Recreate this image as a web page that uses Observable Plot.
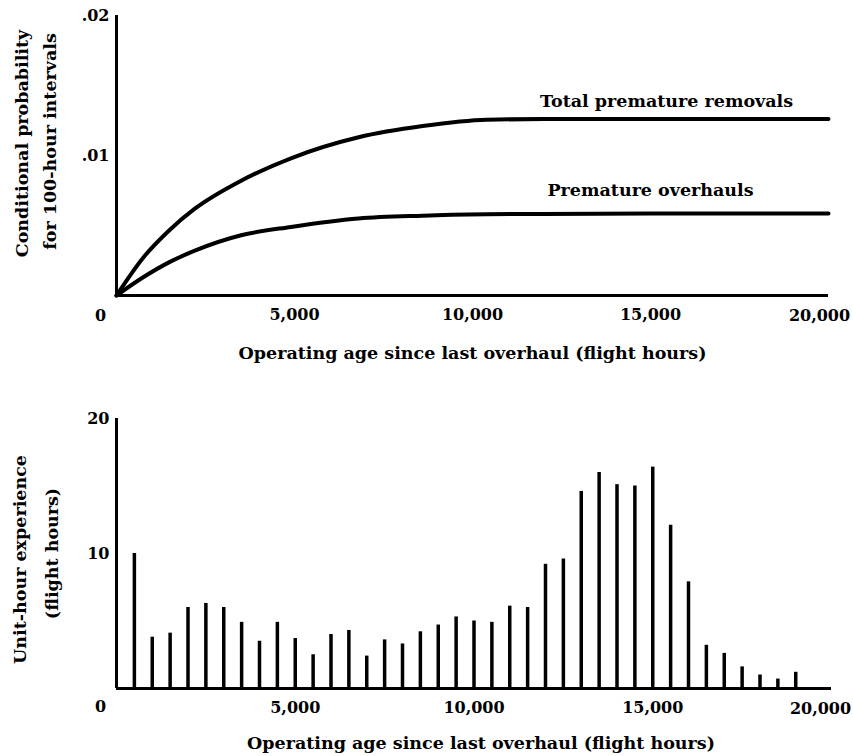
<!DOCTYPE html>
<html><head><meta charset="utf-8">
<script src="https://cdn.jsdelivr.net/npm/d3@7"></script>
<script src="https://cdn.jsdelivr.net/npm/@observablehq/plot@0.6"></script>
<style>body{margin:0;background:#fff} #chart svg{display:block}</style>
</head><body><div id="chart"></div>
<script>
// ---- Top chart data: conditional probability curves ----
const ageHours = [0, 750, 1500, 2200, 3500, 4900, 6800, 8600, 10400, 12000, 15000, 20000];
const totalRemovals = [0, 0.0027, 0.0047, 0.0062, 0.0082, 0.0098, 0.0113, 0.0121, 0.01255, 0.0126, 0.0126, 0.0126];
const prematureOverhauls = [0, 0.0013, 0.0024, 0.0032, 0.0043, 0.0049, 0.0055, 0.0057, 0.0058, 0.00583, 0.00585, 0.00585];
const seriesNames = ["Total premature removals", "Premature overhauls"];
const seriesLabelAge = [15450, 15000];
const seriesLabelProb = [0.0139, 0.0075];
const probTicks = [0.01, 0.02];
const probTickLabels = [".01", ".02"];

// ---- Shared x axis ----
const xTicks = [0, 5000, 10000, 15000, 20000];
const xTickLabels = ["0", "5,000", "10,000", "15,000", "20,000"];
const xTitle = "Operating age since last overhaul (flight hours)";
const topYTitle = ["Conditional probability", "for 100-hour intervals"];
const bottomYTitle = ["Unit-hour experience", "(flight hours)"];

// ---- Bottom chart data: unit-hour experience per 500-hour interval ----
const binHours = [500, 1000, 1500, 2000, 2500, 3000, 3500, 4000, 4500, 5000,
  5500, 6000, 6500, 7000, 7500, 8000, 8500, 9000, 9500, 10000,
  10500, 11000, 11500, 12000, 12500, 13000, 13500, 14000, 14500, 15000,
  15500, 16000, 16500, 17000, 17500, 18000, 18500, 19000];
const unitHours = [10.0, 3.8, 4.1, 6.0, 6.3, 6.0, 4.9, 3.5, 4.9, 3.7,
  2.5, 4.0, 4.3, 2.4, 3.6, 3.3, 4.2, 4.7, 5.3, 5.0,
  4.9, 6.1, 6.0, 9.2, 9.6, 14.6, 16.0, 15.1, 15.0, 16.4,
  12.1, 7.9, 3.2, 2.6, 1.6, 1.0, 0.7, 1.2];
const expTicks = [10, 20];
const expTickLabels = ["10", "20"];

const font = {fontFamily: "'DejaVu Serif', serif", fontSize: "16px", fontWeight: "bold", color: "#000", background: "#fff", overflow: "visible"};
const ink = "#000";
const fmtX = d => xTickLabels[xTicks.indexOf(d)];
const midTicks = xTicks.slice(1, -1);
const firstTick = [xTicks[0]];
const lastTick = [xTicks[xTicks.length - 1]];

const lineData = ageHours.flatMap((a, i) => [
  {age: a, p: totalRemovals[i], s: seriesNames[0]},
  {age: a, p: prematureOverhauls[i], s: seriesNames[1]}
]);
const labelData = seriesNames.map((s, i) => ({s, age: seriesLabelAge[i], p: seriesLabelProb[i]}));

const topChart = Plot.plot({
  width: 853, height: 380,
  marginLeft: 116, marginRight: 25, marginTop: 15, marginBottom: 85,
  style: font,
  x: {domain: [0, 20000]},
  y: {domain: [0, 0.02]},
  marks: [
    Plot.ruleY([0], {stroke: ink, strokeWidth: 3}),
    Plot.ruleX([0], {stroke: ink, strokeWidth: 3}),
    Plot.line(lineData, {x: "age", y: "p", z: "s", stroke: ink, strokeWidth: 4, curve: "monotone-x"}),
    Plot.text(labelData, {x: "age", y: "p", text: "s", fill: ink, fontSize: 17.5}),
    Plot.axisX({ticks: midTicks, tickFormat: fmtX, tickSize: 0, tickPadding: 13, label: null, fill: ink}),
    Plot.text(firstTick, {x: d => d, frameAnchor: "bottom", text: fmtX, dx: -16, dy: 20, lineAnchor: "middle", fill: ink}),
    Plot.text(lastTick, {x: d => d, frameAnchor: "bottom", text: fmtX, dx: -9, dy: 20, lineAnchor: "middle", fill: ink}),
    Plot.axisY({ticks: probTicks, tickFormat: d => probTickLabels[probTicks.indexOf(d)], tickSize: 0, tickPadding: 7, label: null, fill: ink}),
    Plot.text([xTitle], {frameAnchor: "bottom", text: d => d, dy: 58, lineAnchor: "middle", fill: ink, fontSize: 17.5}),
    Plot.text([topYTitle[0]], {frameAnchor: "left", textAnchor: "middle", rotate: -90, dx: -94, dy: -12, text: d => d, fill: ink, fontSize: 17.5}),
    Plot.text([topYTitle[1]], {frameAnchor: "left", textAnchor: "middle", rotate: -90, dx: -66, dy: -14, text: d => d, fill: ink, fontSize: 17.5})
  ]
});

const bottomChart = Plot.plot({
  width: 853, height: 376,
  marginLeft: 116, marginRight: 22, marginTop: 38, marginBottom: 68,
  style: font,
  x: {domain: [0, 20000]},
  y: {domain: [0, 20]},
  marks: [
    Plot.ruleY([0], {stroke: ink, strokeWidth: 3}),
    Plot.ruleX([0], {stroke: ink, strokeWidth: 3}),
    Plot.ruleX(binHours.map((h, i) => ({h, v: unitHours[i]})), {x: "h", y1: 0, y2: "v", stroke: ink, strokeWidth: 3.5}),
    Plot.axisX({ticks: midTicks, tickFormat: fmtX, tickSize: 0, tickPadding: 13, label: null, fill: ink}),
    Plot.text(firstTick, {x: d => d, frameAnchor: "bottom", text: fmtX, dx: -16, dy: 18, lineAnchor: "middle", fill: ink}),
    Plot.text(lastTick, {x: d => d, frameAnchor: "bottom", text: fmtX, dx: -11, dy: 20, lineAnchor: "middle", fill: ink}),
    Plot.axisY({ticks: expTicks, tickFormat: d => expTickLabels[expTicks.indexOf(d)], tickSize: 0, tickPadding: 7, label: null, fill: ink}),
    Plot.text([xTitle], {frameAnchor: "bottom", text: d => d, dx: 7, dy: 55, lineAnchor: "middle", fill: ink, fontSize: 17.5}),
    Plot.text([bottomYTitle[0]], {frameAnchor: "left", textAnchor: "middle", rotate: -90, dx: -96, dy: 6, text: d => d, fill: ink, fontSize: 17.5}),
    Plot.text([bottomYTitle[1]], {frameAnchor: "left", textAnchor: "middle", rotate: -90, dx: -64, text: d => d, fill: ink, fontSize: 17.5})
  ]
});

document.getElementById("chart").append(topChart, bottomChart);
</script>
</body></html>
